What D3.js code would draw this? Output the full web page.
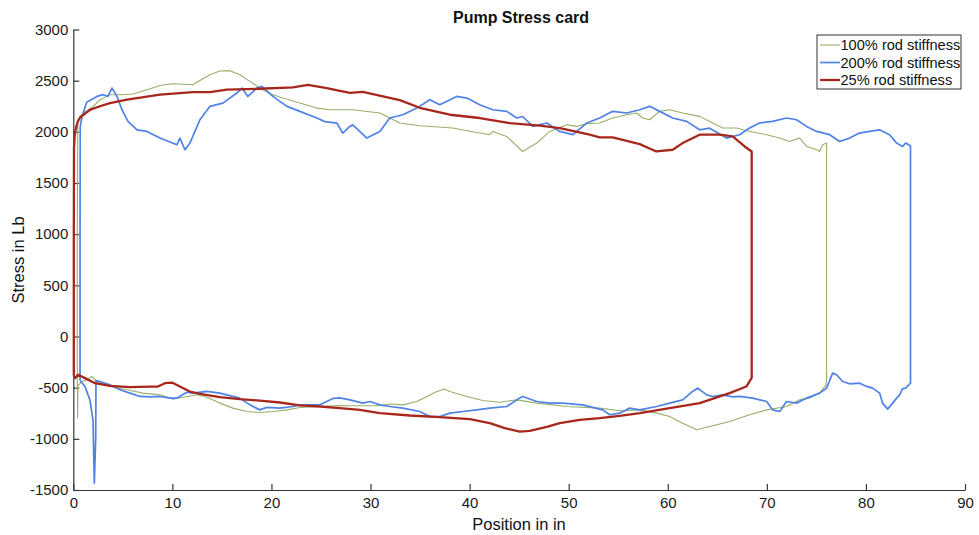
<!DOCTYPE html>
<html>
<head>
<meta charset="utf-8">
<script src="https://cdn.jsdelivr.net/npm/d3@7/dist/d3.min.js"></script>
<style>
  html, body { margin: 0; padding: 0; background: #fff; }
  svg { display: block; font-family: "Liberation Sans", Arial, Helvetica, sans-serif; }
</style>
</head>
<body>
<svg id="chart" width="979" height="535"></svg>
<script>
// Pump stress cards: [position (in), stress (Lb)] traced around each loop
const stiffness100 = [
  [0.40,-450],[0.40,1000],[0.45,2100],[0.68,2150],[1.0,2184],[2.02,2249],[2.69,2314],[3.70,2363],[5.0,2363],
  [6.02,2370],[7.43,2412],[8.75,2453],[10.06,2470],[12.07,2460],[12.78,2502],[13.79,2558],[14.79,2594],
  [15.81,2598],[16.81,2558],[17.82,2493],[18.83,2428],[19.84,2372],[21.15,2330],[22.87,2281],[24.58,2232],
  [25.90,2216],[28.21,2216],[30.94,2184],[32.95,2086],[34.97,2060],[38.30,2037],[41.02,1988],[42.03,1972],
  [42.34,2004],[43.75,1955],[45.36,1808],[46.78,1890],[48.09,2004],[49.80,2069],[50.81,2053],[51.82,2080],
  [53.13,2086],[54.44,2135],[55.85,2167],[56.86,2184],[57.47,2135],[58.18,2118],[59.18,2200],[60.19,2216],
  [61.50,2184],[63.22,2151],[64.53,2086],[65.54,2037],[66.95,2037],[68.26,2004],[69.98,1972],[71.29,1939],
  [72.29,1906],[73.31,1939],[74.01,1857],[75.02,1825],[75.33,1808],[75.63,1874],[76.03,1890],[76.03,500],
  [76.03,-407],[75.98,-472],[75.33,-553],[74.32,-602],[73.31,-619],[71.99,-684],[69.98,-717],[68.26,-765],
  [66.24,-831],[64.53,-873],[62.92,-912],[61.50,-847],[60.19,-782],[58.88,-749],[57.17,-717],[55.15,-726],
  [53.13,-700],[49.80,-684],[46.78,-651],[44.76,-619],[43.04,-642],[41.33,-626],[39.72,-586],[38.0,-538],
  [37.49,-514],[36.69,-538],[35.68,-586],[34.67,-635],[33.26,-668],[31.95,-660],[30.64,-677],[27.91,-677],
  [26.90,-674],[24.89,-684],[22.87,-694],[21.56,-717],[20.15,-733],[18.83,-743],[17.52,-733],[16.11,-700],
  [14.79,-651],[13.49,-593],[12.48,-570],[11.47,-586],[10.06,-612],[8.75,-570],[7.03,-553],[5.42,-521],
  [3.70,-489],[2.39,-440],[1.89,-391],[1.38,-423],[0.88,-440],[0.47,-480],[0.44,-795],[0.42,-480],[0.40,-450]
];

const stiffness200 = [
  [0.68,-430],[0.68,1000],[0.70,2050],[0.88,2150],[1.35,2290],[2.39,2346],[3.0,2363],[3.5,2346],[3.9,2428],
  [4.41,2346],[4.91,2216],[5.52,2102],[6.43,2020],[7.43,2004],[8.75,1939],[9.76,1900],[10.46,1874],
  [10.76,1939],[11.27,1825],[11.77,1890],[12.78,2118],[13.79,2249],[15.10,2281],[16.51,2379],[17.02,2428],
  [17.62,2346],[18.53,2428],[19.04,2444],[20.15,2346],[21.56,2249],[22.87,2200],[24.58,2135],[25.39,2100],
  [26.60,2086],[27.2,1988],[27.91,2053],[28.21,2069],[29.63,1939],[30.94,2004],[31.95,2135],[33.26,2167],
  [34.67,2232],[35.98,2314],[36.99,2265],[38.70,2346],[39.72,2330],[41.02,2265],[42.34,2216],[43.75,2200],
  [44.76,2135],[45.36,2150],[46.37,2053],[47.79,2086],[49.10,2004],[50.41,1972],[51.82,2086],[53.13,2135],
  [54.44,2200],[55.85,2184],[57.17,2216],[58.18,2249],[59.18,2200],[60.50,2135],[61.91,2102],[63.22,2020],
  [64.23,2036],[65.94,1939],[67.25,1972],[68.26,2037],[69.27,2086],[70.58,2102],[71.99,2135],[73.0,2118],
  [74.01,2053],[75.02,2004],[76.34,1972],[77.34,1906],[78.35,1939],[79.36,1988],[80.37,2004],[81.38,2020],
  [82.39,1972],[83.10,1890],[83.70,1857],[84.01,1890],[84.31,1874],[84.5,1860],[84.5,500],[84.5,-456],
  [84.01,-504],[83.70,-510],[83.40,-570],[83.10,-602],[82.69,-651],[82.19,-710],[81.68,-651],[81.38,-553],
  [80.67,-504],[80.07,-488],[79.36,-456],[78.35,-462],[77.65,-440],[77.04,-374],[76.64,-358],[76.03,-504],
  [75.33,-553],[74.01,-602],[73.0,-651],[71.99,-635],[71.29,-733],[70.58,-717],[69.98,-635],[68.57,-602],
  [67.25,-586],[66.55,-590],[65.54,-570],[64.53,-586],[63.93,-570],[63.02,-504],[62.51,-537],[61.50,-619],
  [60.19,-651],[58.88,-684],[57.17,-717],[56.16,-700],[55.15,-749],[54.14,-765],[53.43,-717],[51.42,-668],
  [49.40,-651],[48.09,-651],[46.78,-635],[45.36,-586],[44.76,-619],[43.75,-684],[42.03,-700],[40.72,-717],
  [39.31,-733],[38.0,-749],[36.99,-782],[35.98,-782],[34.97,-733],[33.26,-700],[31.95,-684],[30.94,-668],
  [29.93,-635],[29.22,-651],[27.91,-619],[26.90,-600],[26.2,-605],[24.89,-668],[22.87,-668],[22.16,-684],
  [20.85,-700],[19.54,-693],[18.83,-717],[17.82,-668],[16.81,-602],[14.79,-553],[13.49,-537],[12.07,-553],
  [11.47,-545],[10.46,-602],[9.76,-602],[8.75,-586],[7.74,-590],[6.73,-586],[5.72,-553],[4.71,-521],
  [3.70,-472],[2.69,-440],[2.29,-430],[2.26,-1000],[2.12,-1433],[1.99,-820],[1.68,-619],[1.18,-489],
  [0.68,-430]
];

const stiffness25 = [
  [0.05,-380],[0.05,1000],[0.07,1850],[0.17,2000],[0.45,2100],[0.68,2140],[1.68,2215],[2.69,2250],
  [3.7,2281],[5.42,2314],[8.75,2363],[12.07,2389],[13.79,2389],[15.50,2412],[18.83,2421],[22.16,2434],
  [23.68,2460],[25.59,2428],[26.9,2400],[27.91,2380],[29.22,2390],[32.95,2310],[34.97,2235],[38.0,2167],
  [41.02,2135],[44.05,2086],[47.08,2060],[49.10,2037],[52.12,1972],[53.13,1945],[54.44,1945],[57.17,1880],
  [58.85,1808],[60.5,1825],[61.5,1890],[63.22,1972],[65.24,1972],[66.55,1955],[67.76,1857],[68.47,1808],
  [68.47,500],[68.47,-404],[67.93,-489],[66.24,-553],[63.22,-651],[60.19,-700],[57.17,-749],[55.15,-775],
  [53.13,-798],[51.11,-814],[49.10,-847],[47.89,-880],[46.07,-922],[45.06,-929],[43.55,-896],[42.03,-847],
  [40.02,-808],[36.99,-788],[33.96,-772],[30.94,-749],[28.92,-717],[26.9,-700],[24.89,-684],[22.87,-674],
  [20.85,-645],[18.83,-626],[16.81,-612],[14.79,-593],[12.78,-560],[11.77,-538],[10.76,-489],[9.96,-450],
  [9.25,-456],[8.54,-489],[7.74,-489],[5.72,-495],[3.70,-482],[2.19,-456],[1.18,-407],[0.48,-374],
  [0.17,-407],[0.05,-380]
];

const seriesNames = ["100% rod stiffness", "200% rod stiffness", "25% rod stiffness"];
const xTicks = [0, 10, 20, 30, 40, 50, 60, 70, 80, 90];
const yTicks = [-1500, -1000, -500, 0, 500, 1000, 1500, 2000, 2500, 3000];

const series = [
  { name: seriesNames[0], data: stiffness100, color: "#98ae6a", width: 1.1 },
  { name: seriesNames[1], data: stiffness200, color: "#4f82e6", width: 1.7 },
  { name: seriesNames[2], data: stiffness25,  color: "#a8271d", width: 2.3 }
];

const svg = d3.select("#chart");
const plotLeft = 73.3, plotRight = 965, plotTop = 29.5, plotBottom = 490;

const x = d3.scaleLinear().domain([0, 90]).range([plotLeft, plotRight]);
const y = d3.scaleLinear().domain([-1500, 3000]).range([plotBottom, plotTop]);

const axisColor = "#343442";
const plainNumber = d => String(d);

// axes with inward ticks, no box
const gx = svg.append("g")
  .attr("transform", `translate(0,${plotBottom})`)
  .call(d3.axisBottom(x).tickValues(xTicks).tickFormat(plainNumber)
    .tickSize(-6).tickSizeOuter(0).tickPadding(7));
const gy = svg.append("g")
  .attr("transform", `translate(${plotLeft},0)`)
  .call(d3.axisLeft(y).tickValues(yTicks).tickFormat(plainNumber)
    .tickSize(-6).tickSizeOuter(0).tickPadding(5));

[gx, gy].forEach(g => {
  g.select(".domain").attr("stroke", axisColor).attr("stroke-width", 1.2);
  g.selectAll(".tick line").attr("stroke", axisColor).attr("stroke-width", 1.2);
  g.selectAll(".tick text")
    .attr("fill", "#1a1a1a")
    .style("font-size", "15px")
    .style("font-family", "'Liberation Sans', Arial, Helvetica, sans-serif");
});

// loops
const line = d3.line().x(d => x(d[0])).y(d => y(d[1]));
svg.append("g").selectAll("path")
  .data(series)
  .join("path")
  .attr("d", d => line(d.data))
  .attr("fill", "none")
  .attr("stroke", d => d.color)
  .attr("stroke-width", d => d.width)
  .attr("stroke-linejoin", "round");

// title and axis labels
svg.append("text")
  .attr("x", 521).attr("y", 23)
  .attr("text-anchor", "middle")
  .style("font-size", "16px").style("font-weight", "bold")
  .attr("fill", "#111")
  .text("Pump Stress card");

svg.append("text")
  .attr("x", 519).attr("y", 530)
  .attr("text-anchor", "middle")
  .style("font-size", "16.5px")
  .attr("fill", "#111")
  .text("Position in in");

svg.append("text")
  .attr("transform", "translate(24,260) rotate(-90)")
  .attr("text-anchor", "middle")
  .style("font-size", "16.5px")
  .attr("fill", "#111")
  .text("Stress in Lb");

// legend
const legend = svg.append("g");
legend.append("rect")
  .attr("x", 817).attr("y", 35).attr("width", 144).attr("height", 54)
  .attr("fill", "#fff").attr("stroke", "#333").attr("stroke-width", 1);
series.forEach((s, i) => {
  const cy = 45 + i * 17.5;
  legend.append("line")
    .attr("x1", 820).attr("x2", 840).attr("y1", cy).attr("y2", cy)
    .attr("stroke", s.color).attr("stroke-width", s.width);
  legend.append("text")
    .attr("x", 840.5).attr("y", cy + 5)
    .style("font-size", "14.6px")
    .attr("fill", "#111")
    .text(s.name);
});
</script>
</body>
</html>
